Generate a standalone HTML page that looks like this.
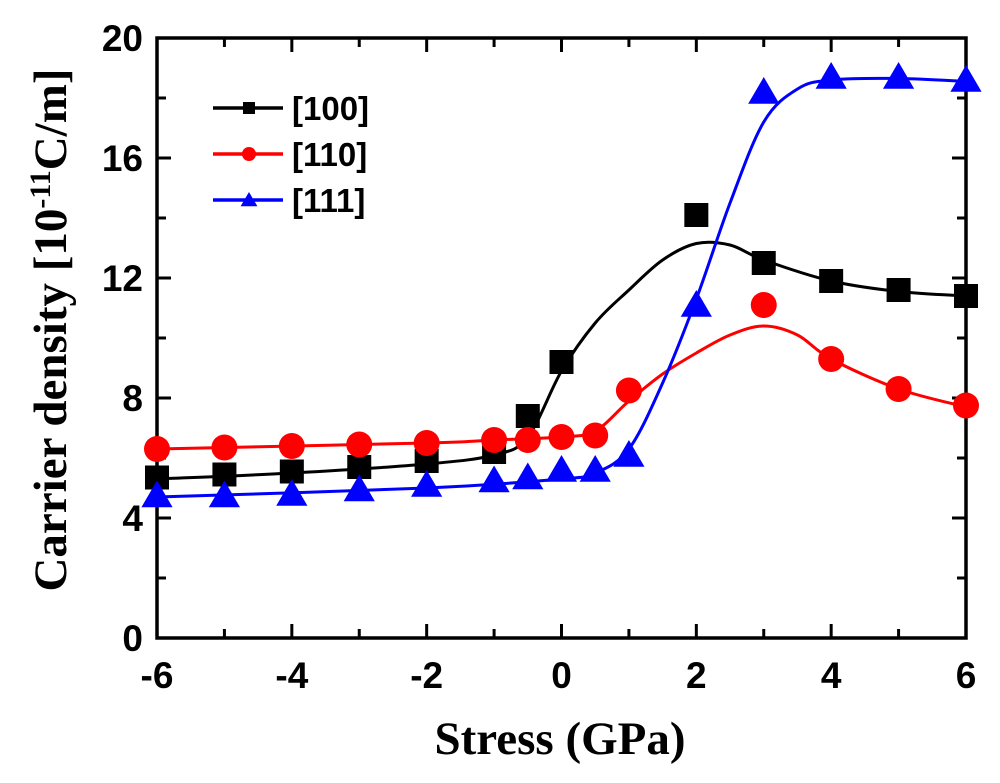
<!DOCTYPE html>
<html><head><meta charset="utf-8"><style>
body{margin:0;background:#fff;}
svg text{font-family:"Liberation Sans",sans-serif;font-weight:bold;}
</style></head><body>
<svg id="c" width="1000" height="778" xmlns="http://www.w3.org/2000/svg"></svg>
<script>
const xTicks=[-6,-4,-2,0,2,4,6];
const yTicks=[0,4,8,12,16,20];
const x100=[-6,-5,-4,-3,-2,-1,-0.5,0,2,3,4,5,6];
const y100=[5.35,5.45,5.55,5.7,5.9,6.2,7.4,9.2,14.1,12.5,11.9,11.6,11.4];
const x110=[-6,-5,-4,-3,-2,-1,-0.5,0,0.5,1,3,4,5,6];
const y110=[6.3,6.35,6.4,6.45,6.5,6.6,6.6,6.7,6.75,8.25,11.1,9.3,8.3,7.75];
const x111=[-6,-5,-4,-3,-2,-1,-0.5,0,0.5,1,2,3,4,5,6];
const y111=[4.75,4.75,4.8,4.95,5.1,5.25,5.35,5.6,5.6,6.1,11.1,18.2,18.7,18.7,18.6];
const fx100=[-6,-4,-2,-1,-0.5,0,0.5,1,1.5,2,2.5,3,4,5,6];
const fy100=[5.3,5.5,5.8,6.1,6.7,8.9,10.5,11.6,12.6,13.15,13.1,12.6,11.9,11.55,11.4];
const fx110=[-6,-2,-1,0,0.5,1,1.5,2,2.5,3,3.5,4,5,6];
const fy110=[6.3,6.5,6.6,6.7,6.9,7.9,8.8,9.5,10.1,10.4,10.1,9.3,8.3,7.7];
const fx111=[-6,-2,0,0.5,1,1.5,2,2.5,3,3.5,4,5,6];
const fy111=[4.7,5.0,5.3,5.5,6.3,8.5,11.3,14.5,17.2,18.3,18.6,18.65,18.55];

const L=157,R=966,T=38,B=638;
const sx=v=>L+(v+6)/12*(R-L);
const sy=v=>B-v/20*(B-T);
const svg=document.getElementById('c');
const NS='http://www.w3.org/2000/svg';
function mk(tag,attrs,parent){const e=document.createElementNS(NS,tag);for(const k in attrs)e.setAttribute(k,attrs[k]);(parent||svg).appendChild(e);return e;}

const fr=mk('rect',{x:L,y:T,width:R-L,height:B-T,fill:'none',stroke:'#000','stroke-width':3.5});



for(let v=-6;v<=6;v++){
  const major=v%2===0;const len=major?14:9;
  const t=mk('line',{x1:sx(v),x2:sx(v),y1:B,y2:B-len,stroke:'#000','stroke-width':3});
  
  
  const t2=mk('line',{x1:sx(v),x2:sx(v),y1:T,y2:T+len,stroke:'#000','stroke-width':3});
  
  
}
xTicks.forEach(v=>{
  const tx=mk('text',{x:sx(v),y:B+50,'text-anchor':'middle','font-size':37});
  tx.textContent=v;
  
  
});
for(let v=0;v<=20;v+=2){
  const major=v%4===0;const len=major?14:9;
  const t=mk('line',{x1:L,x2:L+len,y1:sy(v),y2:sy(v),stroke:'#000','stroke-width':3});
  
  
  const t2=mk('line',{x1:R,x2:R-len,y1:sy(v),y2:sy(v),stroke:'#000','stroke-width':3});
  
  
}
yTicks.forEach(v=>{
  const tx=mk('text',{x:L-14,y:sy(v)+13,'text-anchor':'end','font-size':37});
  tx.textContent=v;
  
  
});
const xt=mk('text',{x:560,y:754,'text-anchor':'middle','font-size':47,style:'font-family:"Liberation Serif",serif'});
xt.textContent='Stress (GPa)';


const yt=mk('text',{x:0,y:0,'text-anchor':'middle','font-size':47,transform:'translate(66,330) rotate(-90)',style:'font-family:"Liberation Serif",serif'});
yt.innerHTML='Carrier density [10<tspan dy="-16" font-size="30">-11</tspan><tspan dy="16">C/m]</tspan>';



function curve(xs,ys){
  const p=xs.map((x,i)=>[sx(x),sy(ys[i])]);
  let d='M'+p[0][0]+','+p[0][1];
  for(let i=0;i<p.length-1;i++){
    const p0=p[i-1]||p[i],p1=p[i],p2=p[i+1],p3=p[i+2]||p[i+1];
    const c1=[p1[0]+(p2[0]-p0[0])/6,p1[1]+(p2[1]-p0[1])/6];
    const c2=[p2[0]-(p3[0]-p1[0])/6,p2[1]-(p3[1]-p1[1])/6];
    d+=`C${c1[0]},${c1[1]} ${c2[0]},${c2[1]} ${p2[0]},${p2[1]}`;
  }
  return d;
}
function marker(kind,cx,cy,col,s){
  if(kind==='sq') return mk('rect',{x:cx-s,y:cy-s,width:2*s,height:2*s,fill:col});
  if(kind==='ci') return mk('circle',{cx:cx,cy:cy,r:s,fill:col});
  return mk('polygon',{points:`${cx},${cy-s*1.15} ${cx-s*1.2},${cy+s*0.9} ${cx+s*1.2},${cy+s*0.9}`,fill:col});
}
const series=[
 {n:'100',xs:x100,ys:y100,fx:fx100,fy:fy100,c:'#000',k:'sq',s:12},
 {n:'110',xs:x110,ys:y110,fx:fx110,fy:fy110,c:'#f00',k:'ci',s:13},
 {n:'111',xs:x111,ys:y111,fx:fx111,fy:fy111,c:'#00f',k:'tr',s:13}
];
series.forEach((se,i)=>{
  const l=mk('path',{d:curve(se.fx,se.fy),fill:'none',stroke:se.c,'stroke-width':3});
  
  
  se.xs.forEach((x,j)=>{
    const m=marker(se.k,sx(x),sy(se.ys[j]),se.c,se.s);
    
    
  });
  const ly=108+i*46;
  const ll=mk('line',{x1:213,x2:283,y1:ly,y2:ly,stroke:se.c,'stroke-width':3.5});
  
  
  const lm=marker(se.k,249,ly,se.c,se.k==='sq'?6:7);
  
  
  const lt=mk('text',{x:292,y:ly+12,'font-size':33});
  lt.textContent='['+se.n+']';
  
  
});
</script>
</body></html>
